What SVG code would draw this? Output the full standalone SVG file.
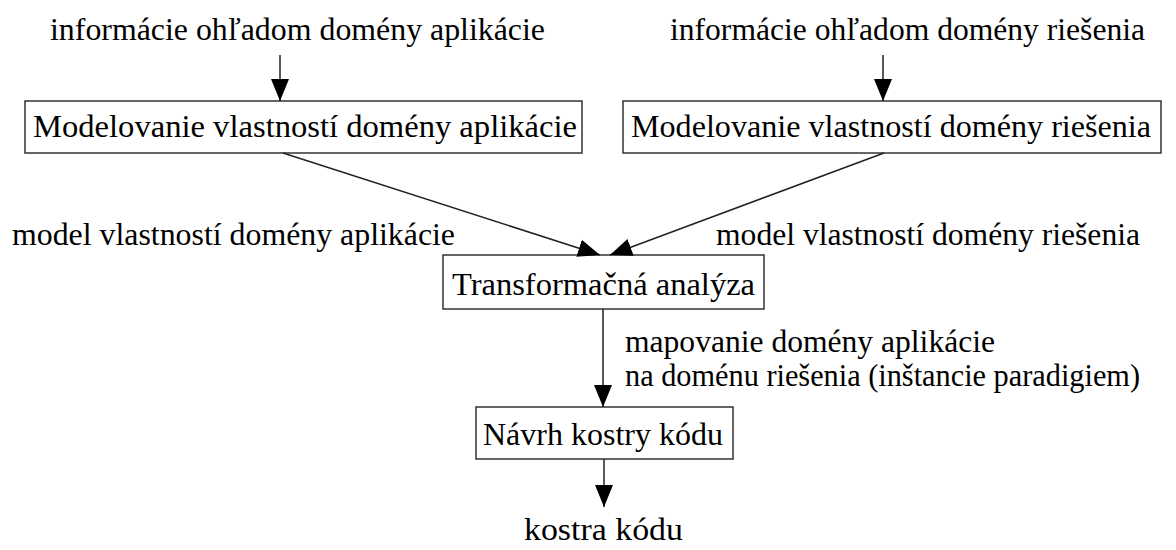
<svg xmlns="http://www.w3.org/2000/svg" width="1176" height="550" viewBox="0 0 1176 550">
<style>
text{font-family:'Liberation Serif','Times New Roman',serif;font-size:31px;fill:#000;}
.box rect{fill:#fff;stroke:#333;stroke-width:1.5;}
.c line{stroke:#222;stroke-width:1.5;}
</style>
<defs>
<marker id="ah" markerWidth="22" markerHeight="20" refX="22" refY="10" orient="auto" markerUnits="userSpaceOnUse">
<path d="M0,1 L22,10 L0,19 Z" fill="#000"/>
</marker>
</defs>
<rect width="1176" height="550" fill="#fff"/>
<g id="lbl-info-app"><text x="50" y="40" textLength="495" lengthAdjust="spacingAndGlyphs">informácie ohľadom domény aplikácie</text></g>
<g id="lbl-info-sol"><text x="670" y="40" textLength="475" lengthAdjust="spacingAndGlyphs">informácie ohľadom domény riešenia</text></g>
<g id="n-model-app" class="box"><rect x="25" y="101" width="557" height="52"/><text x="33" y="137" textLength="544" lengthAdjust="spacingAndGlyphs">Modelovanie vlastností domény aplikácie</text></g>
<g id="n-model-sol" class="box"><rect x="623" y="101" width="538" height="52"/><text x="631" y="137" textLength="520" lengthAdjust="spacingAndGlyphs">Modelovanie vlastností domény riešenia</text></g>
<g id="lbl-model-app"><text x="12" y="245" textLength="443" lengthAdjust="spacingAndGlyphs">model vlastností domény aplikácie</text></g>
<g id="lbl-model-sol"><text x="716" y="245" textLength="424" lengthAdjust="spacingAndGlyphs">model vlastností domény riešenia</text></g>
<g id="n-transform" class="box"><rect x="443" y="255" width="321" height="54"/><text x="452" y="295" textLength="303" lengthAdjust="spacingAndGlyphs">Transformačná analýza</text></g>
<g id="lbl-map"><text x="625" y="352" textLength="370" lengthAdjust="spacingAndGlyphs">mapovanie domény aplikácie</text><text x="625" y="386" textLength="515" lengthAdjust="spacingAndGlyphs">na doménu riešenia (inštancie paradigiem)</text></g>
<g id="n-navrh" class="box"><rect x="476" y="407" width="257" height="52"/><text x="483" y="445" textLength="240" lengthAdjust="spacingAndGlyphs">Návrh kostry kódu</text></g>
<g id="lbl-kostra"><text x="524" y="540" textLength="159" lengthAdjust="spacingAndGlyphs">kostra kódu</text></g>
<g id="connectors" class="c">
<line x1="280" y1="55" x2="280" y2="101" marker-end="url(#ah)"/>
<line x1="883" y1="55" x2="883" y2="101" marker-end="url(#ah)"/>
<line x1="283" y1="153" x2="600" y2="255" marker-end="url(#ah)"/>
<line x1="884" y1="153" x2="610" y2="255" marker-end="url(#ah)"/>
<line x1="603" y1="309" x2="603" y2="407" marker-end="url(#ah)"/>
<line x1="604" y1="459" x2="604" y2="507" marker-end="url(#ah)"/>
</g>
</svg>
